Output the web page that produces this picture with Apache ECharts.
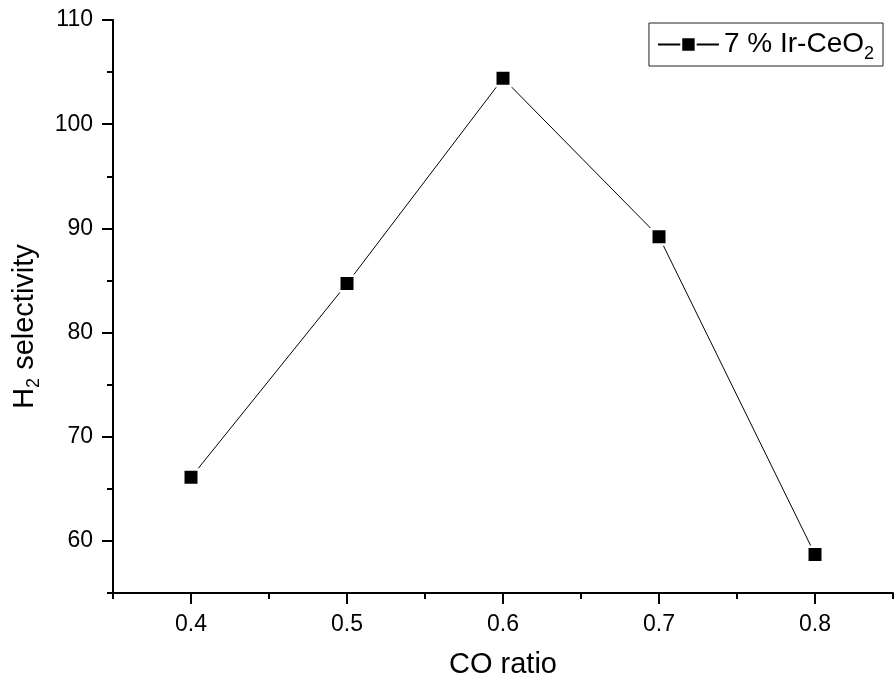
<!DOCTYPE html>
<html>
<head>
<meta charset="utf-8">
<script src="https://cdn.jsdelivr.net/npm/echarts@6/dist/echarts.min.js"></script>
<style>
  html, body { margin: 0; padding: 0; background: #fff; }
  #main { width: 895px; height: 684px; }
</style>
</head>
<body>
<div id="main"></div>
<script>
// CO ratio vs H2 selectivity
var coRatio = [0.4, 0.5, 0.6, 0.7, 0.8];
var selectivity = [66.1, 84.7, 104.4, 89.2, 58.7];
var xMajorTicks = [0.4, 0.5, 0.6, 0.7, 0.8];
var xMinorTicks = [0.35, 0.45, 0.55, 0.65, 0.75, 0.85];
var yMajorTicks = [60, 70, 80, 90, 100, 110];
var yMinorTicks = [55, 65, 75, 85, 95, 105];

var FONT = 'Liberation Sans, Arial, sans-serif';

var points = [];
for (var i = 0; i < coRatio.length; i++) {
    points.push([coRatio[i], selectivity[i]]);
}

var chart = echarts.init(document.getElementById('main'));

var option = {
    animation: false,
    backgroundColor: '#fff',
    grid: { left: 113, right: 2, top: 20, bottom: 91 },
    legend: {
        right: 12,
        top: 23,
        orient: 'vertical',
        padding: [3, 9, 3, 8],
        borderColor: '#222',
        borderWidth: 1,
        itemWidth: 61,
        itemHeight: 18,
        data: ['7 % Ir-CeO2'],
        formatter: function () {
            return '{a|7 % Ir-CeO}{sub|2}';
        },
        textStyle: {
            color: '#000',
            fontFamily: FONT,
            rich: {
                a: { fontSize: 28, fontFamily: FONT, color: '#000', lineHeight: 36 },
                sub: { fontSize: 18, fontFamily: FONT, color: '#000', lineHeight: 36, padding: [19, 0, 0, 0] }
            }
        }
    },
    xAxis: [{
        type: 'value',
        min: 0.35,
        max: 0.85,
        name: 'CO ratio',
        nameLocation: 'middle',
        nameGap: 57,
        nameTextStyle: { fontSize: 29, fontFamily: FONT, color: '#000' },
        axisLine: { show: true, onZero: false, lineStyle: { color: '#000', width: 2 } },
        axisTick: { show: true, customValues: xMajorTicks, length: 11, lineStyle: { color: '#000', width: 2 } },
        axisLabel: {
            customValues: xMajorTicks,
            margin: 20,
            fontSize: 23,
            fontFamily: FONT,
            color: '#000',
            formatter: function (v) { return v.toFixed(1); }
        },
        splitLine: { show: false }
    }, {
        type: 'value',
        min: 0.35,
        max: 0.85,
        position: 'bottom',
        axisLine: { show: false },
        axisTick: { show: true, customValues: xMinorTicks, length: 6, lineStyle: { color: '#000', width: 2 } },
        axisLabel: { show: false },
        splitLine: { show: false }
    }],
    yAxis: [{
        type: 'value',
        min: 55,
        max: 110,
        name: 'H{sub|2} selectivity',
        nameLocation: 'middle',
        nameRotate: 90,
        nameGap: 70,
        nameTextStyle: {
            fontSize: 29,
            fontFamily: FONT,
            color: '#000',
            padding: [0, 40, 0, 0],
            rich: {
                sub: { fontSize: 18, fontFamily: FONT, color: '#000', padding: [19, 0, 0, 0] }
            }
        },
        axisLine: { show: true, onZero: false, lineStyle: { color: '#000', width: 2 } },
        axisTick: { show: true, customValues: yMajorTicks, length: 11, lineStyle: { color: '#000', width: 2 } },
        axisLabel: {
            customValues: yMajorTicks,
            margin: 20,
            fontSize: 23,
            fontFamily: FONT,
            color: '#000'
        },
        splitLine: { show: false }
    }, {
        type: 'value',
        min: 55,
        max: 110,
        position: 'left',
        axisLine: { show: false },
        axisTick: { show: true, customValues: yMinorTicks, length: 6, lineStyle: { color: '#000', width: 2 } },
        axisLabel: { show: false },
        splitLine: { show: false }
    }],
    series: [{
        name: '7 % Ir-CeO2',
        type: 'line',
        data: points,
        symbol: 'rect',
        symbolSize: 15.5,
        lineStyle: { color: '#000', width: 1 },
        itemStyle: { color: '#000', borderColor: '#fff', borderWidth: 2.5 }
    }]
};

chart.setOption(option);
</script>
</body>
</html>
